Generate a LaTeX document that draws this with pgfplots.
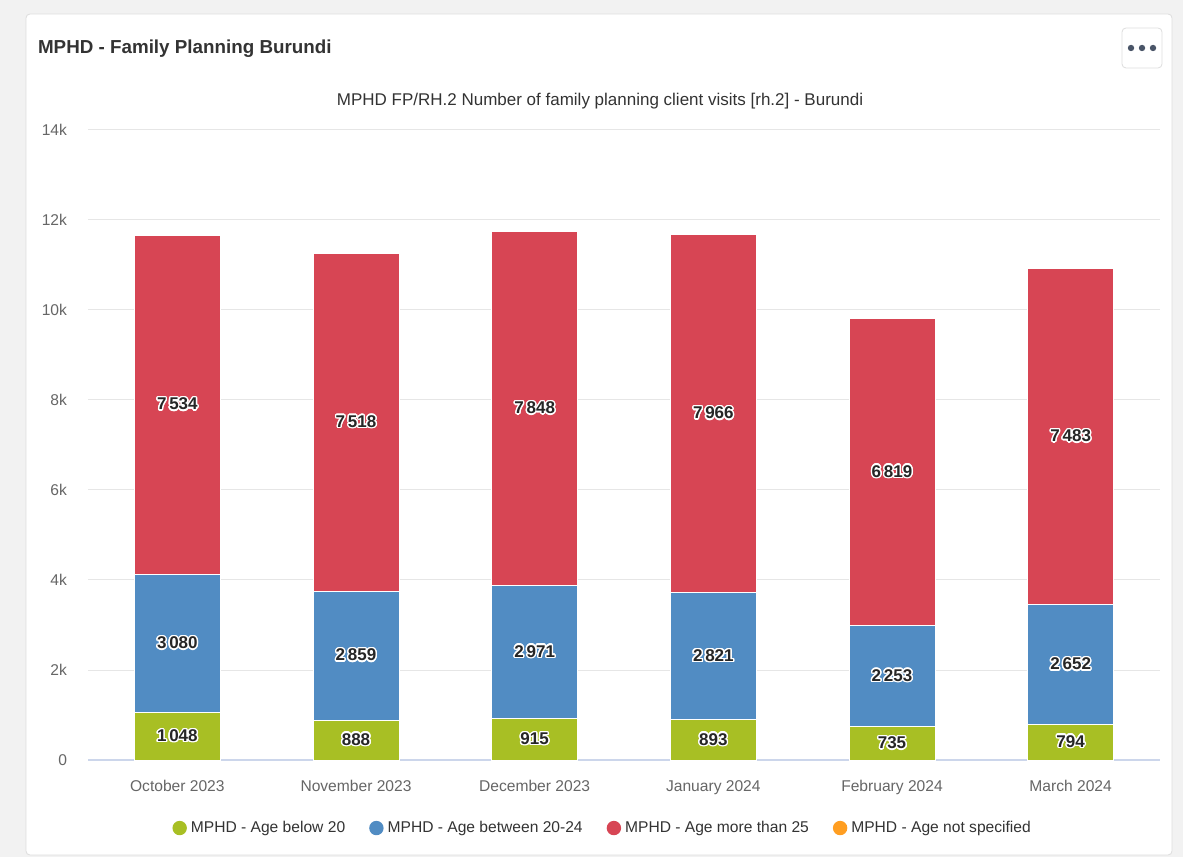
\documentclass[border=0pt]{standalone}
\usepackage{fontspec}
\setmainfont{Liberation Sans}
\usepackage{pgfplots}
\pgfplotsset{compat=1.18}
\usepackage{pgfplotstable}
\usepackage{contour}
\contourlength{0.7pt}
\definecolor{cgreen}{HTML}{A8BF24}
\definecolor{cblue}{HTML}{518CC3}
\definecolor{cred}{HTML}{D74554}
\definecolor{corange}{HTML}{FF9E21}
\definecolor{ctext}{HTML}{333333}
\definecolor{ctick}{HTML}{666666}
\definecolor{cgrid}{HTML}{E6E6E6}
\definecolor{caxis}{HTML}{CCD6EB}
\definecolor{cbg}{HTML}{F2F2F2}
\definecolor{cborder}{HTML}{DDDDDD}
\definecolor{cdots}{HTML}{4A5568}
\pgfplotsset{dotlegend/.style={legend image code/.code={\fill[##1,draw=none] (0pt,0pt) circle (3.6pt);}}}

\pgfplotstableread{
x below between more
0 1048 3080 7534
1 888 2859 7518
2 915 2971 7848
3 893 2821 7966
4 735 2253 6819
5 794 2652 7483
}\datatable

\begin{document}
\begin{tikzpicture}
\fill[cbg] (0,0) rectangle (591.5pt,428.5pt);
\useasboundingbox (0,0) rectangle (591.5pt,428.5pt);
\filldraw[fill=white, draw=cborder, rounded corners=2pt] (13pt,1pt) rectangle (586pt,421.5pt);
\node[anchor=west, font=\bfseries\fontsize{9.4}{11}\selectfont, text=ctext] at (15.5pt,404pt) {MPHD - Family Planning Burundi};
\node[font=\fontsize{8.5}{10}\selectfont, text=ctext] at (300pt,378pt) {MPHD FP/RH.2 Number of family planning client visits [rh.2] - Burundi};
\draw[cborder, rounded corners=2pt, fill=white] (561pt,394.5pt) rectangle (581pt,414.5pt);
\foreach \d in {565.5,571,576.5} \fill[cdots] (\d pt,404.5pt) circle (1.6pt);

\begin{axis}[
 at={(44pt,48.5pt)}, anchor=south west,
 scale only axis, width=536pt, height=315pt,
 ybar stacked, bar width=43pt,
 xmin=-0.5, xmax=5.5, ymin=0, ymax=14000,
 scaled y ticks=false,
 xtick={0,...,5},
 xticklabels={October 2023, November 2023, December 2023, January 2024, February 2024, March 2024},
 ytick={0,2000,...,14000},
 yticklabels={0,2k,4k,6k,8k,10k,12k,14k},
 axis lines*=left,
 y axis line style={draw=none},
 x axis line style={draw=caxis, line width=0.6pt},
 major tick length=0pt,
 ymajorgrids, grid style={cgrid, line width=0.5pt},
 tick label style={font=\fontsize{7.8}{9}\selectfont, text=ctick},
 xticklabel style={yshift=-4pt, text height=1.6ex, text depth=0.3ex},
 yticklabel style={xshift=-7pt},
 point meta=explicit,
 nodes near coords={\contour{white}{\pgfmathprintnumber[1000 sep={\,},assume math mode=true]{\pgfplotspointmeta}}},
 every node near coord/.append style={anchor=center, font=\bfseries\fontsize{8.5}{10}\selectfont, text=black!85},
 legend style={draw=none, fill=none, at={(0.481,-0.108)}, anchor=center, font=\fontsize{7.8}{9}\selectfont, text=ctext, /tikz/every even column/.append style={column sep=10pt}},
 legend columns=4,
 legend cell align=left,
]
\addplot[fill=cgreen, draw=white, line width=0.5pt, dotlegend] table[x=x, y=below, meta=below]{\datatable};
\addlegendentry{MPHD - Age below 20}
\addplot[fill=cblue, draw=white, line width=0.5pt, dotlegend] table[x=x, y=between, meta=between]{\datatable};
\addlegendentry{MPHD - Age between 20-24}
\addplot[fill=cred, draw=white, line width=0.5pt, dotlegend] table[x=x, y=more, meta=more]{\datatable};
\addlegendentry{MPHD - Age more than 25}
\addlegendimage{fill=corange, draw=none, dotlegend}
\addlegendentry{MPHD - Age not specified}
\end{axis}
\end{tikzpicture}
\end{document}
